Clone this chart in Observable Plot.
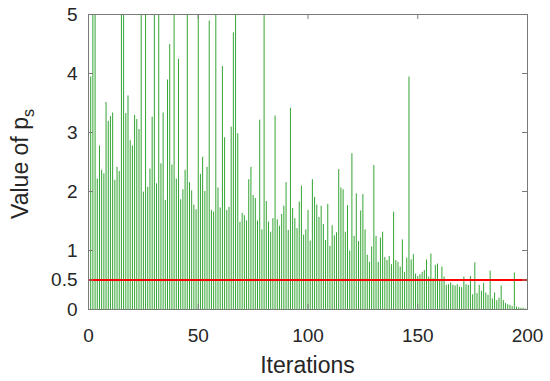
<!DOCTYPE html>
<html>
<head>
<meta charset="utf-8">
<script src="https://cdn.jsdelivr.net/npm/d3@7"></script>
<script src="https://cdn.jsdelivr.net/npm/@observablehq/plot@0.6"></script>
<style>
  html, body { margin: 0; padding: 0; background: #fff; }
  #chart { width: 550px; height: 381px; }
</style>
</head>
<body>
<div id="chart"></div>
<script>
// ---- data ----
const iterations = d3.range(1, 201);
// values above 5 are clipped at the top of the axes in the reference
const psValues = [
  3.94, 5.6, 5.6, 2.21, 2.77, 2.36, 2.30, 3.51, 3.19, 3.27,
  3.33, 2.19, 2.41, 2.34, 5.6, 5.6, 3.32, 3.62, 2.86, 2.77,
  3.29, 3.22, 3.05, 5.6, 1.99, 5.6, 2.07, 2.38, 3.26, 5.6,
  2.13, 5.6, 2.47, 3.33, 1.85, 3.89, 4.49, 2.45, 5.6, 2.21,
  4.24, 1.86, 2.03, 2.36, 5.6, 2.15, 2.01, 1.77, 1.69, 5.6,
  2.29, 2.58, 2.00, 2.41, 4.89, 1.68, 1.65, 5.6, 2.06, 1.72,
  4.12, 2.91, 1.68, 1.73, 3.09, 4.69, 5.6, 2.98, 1.48, 1.63,
  1.59, 1.50, 2.20, 2.41, 1.93, 1.88, 1.50, 3.21, 1.35, 5.6,
  1.83, 1.48, 1.31, 1.54, 3.28, 1.52, 1.41, 1.61, 1.75, 2.15,
  1.34, 3.41, 1.71, 1.54, 1.37, 1.82, 2.09, 1.26, 1.35, 1.68,
  1.16, 2.20, 1.90, 1.77, 1.56, 1.75, 1.44, 1.17, 1.78, 1.07,
  1.42, 1.25, 1.30, 2.37, 2.06, 2.03, 1.31, 1.76, 0.99, 2.64,
  1.24, 1.96, 1.15, 1.67, 1.95, 1.35, 0.92, 0.80, 1.06, 2.44,
  1.24, 0.80, 1.21, 1.31, 0.88, 0.83, 0.90, 0.76, 1.65, 0.83,
  0.80, 0.72, 1.18, 0.63, 0.87, 3.94, 0.84, 0.93, 0.60, 0.56,
  0.59, 0.63, 0.66, 0.84, 0.55, 0.94, 0.52, 0.75, 0.77, 0.49,
  0.72, 0.55, 0.41, 0.42, 0.45, 0.41, 0.40, 0.42, 0.38, 0.37,
  0.55, 0.42, 0.41, 0.56, 0.25, 0.79, 0.27, 0.41, 0.31, 0.44,
  0.28, 0.24, 0.65, 0.18, 0.28, 0.15, 0.19, 0.40, 0.15, 0.10,
  0.08, 0.07, 0.05, 0.62, 0.04, 0.03, 0.02, 0.02, 0.01, 0.01
];
const threshold = [0.5];
const xTicks = [0, 50, 100, 150, 200];
const yTicks = [0, 0.5, 1, 2, 3, 4, 5];
const xLabel = "Iterations";
const yLabelMain = "Value of p";
const yLabelSub = "s";

const data = iterations.map((it, i) => ({iter: it, value: psValues[i]}));

// ---- layout ----
const W = 550, H = 381;
const mL = 88, mR = 23, mT = 14, mB = 72;
const innerW = W - mL - mR, innerH = H - mT - mB;
const tickLen = 5;
const axisColor = "#7a7a7a";
const textColor = "#262626";

const svg = Plot.plot({
  width: W,
  height: H,
  marginLeft: mL,
  marginRight: mR,
  marginTop: mT,
  marginBottom: mB,
  style: {fontFamily: "'Liberation Sans', Arial, Helvetica, sans-serif", fontSize: "19px", color: textColor, background: "#fff"},
  x: {domain: [0, 200], ticks: xTicks, tickSize: 0, tickPadding: 19, tickFormat: d => String(d), label: null},
  y: {domain: [0, 5], ticks: yTicks, tickSize: 0, tickPadding: 11, tickFormat: d => String(d), label: null},
  marks: [
    Plot.ruleX(data, {x: "iter", y1: 0, y2: "value", stroke: "#33a533", strokeWidth: 1, clip: true}),
    Plot.ruleY(threshold, {y: d => d, stroke: "#ff0000", strokeWidth: 2}),
    // inward tick marks on all four sides (MATLAB box style)
    Plot.tickY(yTicks, {y: d => d, insetRight: innerW - tickLen, stroke: axisColor}),
    Plot.tickY(yTicks, {y: d => d, insetLeft: innerW - tickLen, stroke: axisColor}),
    Plot.tickX(xTicks, {x: d => d, insetTop: innerH - tickLen, stroke: axisColor}),
    Plot.tickX(xTicks, {x: d => d, insetBottom: innerH - tickLen, stroke: axisColor}),
    Plot.frame({stroke: axisColor, strokeWidth: 1})
  ]
});

const sel = d3.select(svg);
// x axis title
sel.append("text")
  .attr("x", mL + innerW / 2)
  .attr("y", 373)
  .attr("text-anchor", "middle")
  .attr("fill", textColor)
  .style("font-size", "23px")
  .text(xLabel);
// y axis title with subscript
const yt = sel.append("text")
  .attr("transform", `translate(28, 164) rotate(-90)`)
  .attr("text-anchor", "middle")
  .attr("fill", textColor)
  .style("font-size", "23px");
yt.append("tspan").text(yLabelMain);
yt.append("tspan").attr("dy", 6).style("font-size", "16px").text(yLabelSub);

document.getElementById("chart").appendChild(svg);
</script>
</body>
</html>
